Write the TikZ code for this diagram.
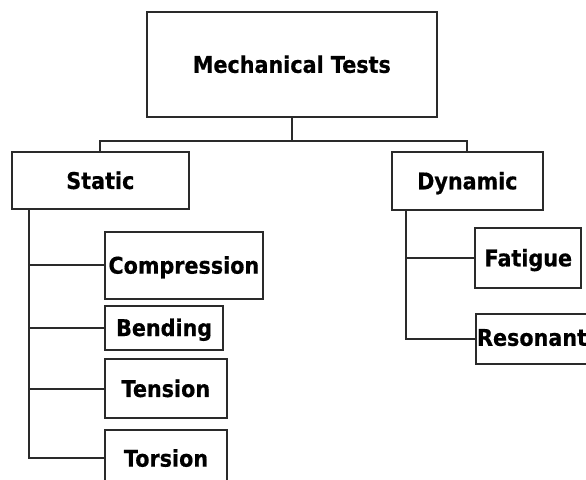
\documentclass[tikz,border=0pt]{standalone}
\usepackage{fontspec}
\setmainfont{DejaVu Sans}[FakeStretch=0.9, BoldFeatures={FakeBold=0.6}]
\begin{document}
\begin{tikzpicture}[x=1pt,y=-1pt,
  box/.style={draw=linec, line width=1.8pt, inner sep=0pt, font=\fontsize{23}{26}\selectfont\bfseries,
    text height=16.6pt, text depth=0pt},
  conn/.style={draw=linec, line width=1.8pt}]
\definecolor{linec}{HTML}{2A2A2A}
\useasboundingbox (0,0) rectangle (586,479);
\fill[white] (0,0) rectangle (586,479);
\clip (0,0) rectangle (586,479);
\node[box, minimum width=289.7pt, minimum height=104.4pt] (mech) at (291.85,64.5) {Mechanical Tests};
\node[box, minimum width=176.7pt, minimum height=57.3pt] (static) at (100.35,180.65) {Static};
\node[box, minimum width=150.7pt, minimum height=58pt] (dyn) at (467.35,181) {Dynamic};
\node[box, minimum width=157.7pt, minimum height=67.3pt] (comp) at (183.85,265.35) {Compression};
\node[box, minimum width=118.3pt, minimum height=44pt] (bend) at (164.15,327.7) {Bending};
\node[box, minimum width=121.7pt, minimum height=59.3pt] (tens) at (165.85,388.65) {Tension};
\node[box, minimum width=122pt, minimum height=57.3pt] (tors) at (166,458.35) {Torsion};
\node[box, minimum width=106pt, minimum height=60.6pt] (fat) at (528.3,258) {Fatigue};
\node[box, minimum width=140pt, minimum height=49.4pt, anchor=west] (res) at (475.3,339) {};
\node[font=\fontsize{23}{26}\selectfont\bfseries, inner sep=0pt, text height=16.6pt, text depth=0pt, anchor=west] (restext) at ([xshift=1.6pt, yshift=1.5pt]res.west) {Resonant};
\draw[conn] (mech.south) -- ++(0,23.3) -| (static.north);
\draw[conn] (mech.south) -- ++(0,23.3) -| (dyn.north);
\draw[conn] ([xshift=18pt]static.south west) |- (comp.west);
\draw[conn] ([xshift=18pt]static.south west) |- (bend.west);
\draw[conn] ([xshift=18pt]static.south west) |- (tens.west);
\draw[conn] ([xshift=18pt]static.south west) |- (tors.west);
\draw[conn] ([xshift=15pt]dyn.south west) |- (fat.west);
\draw[conn] ([xshift=15pt]dyn.south west) |- (res.west);
\end{tikzpicture}
\end{document}
